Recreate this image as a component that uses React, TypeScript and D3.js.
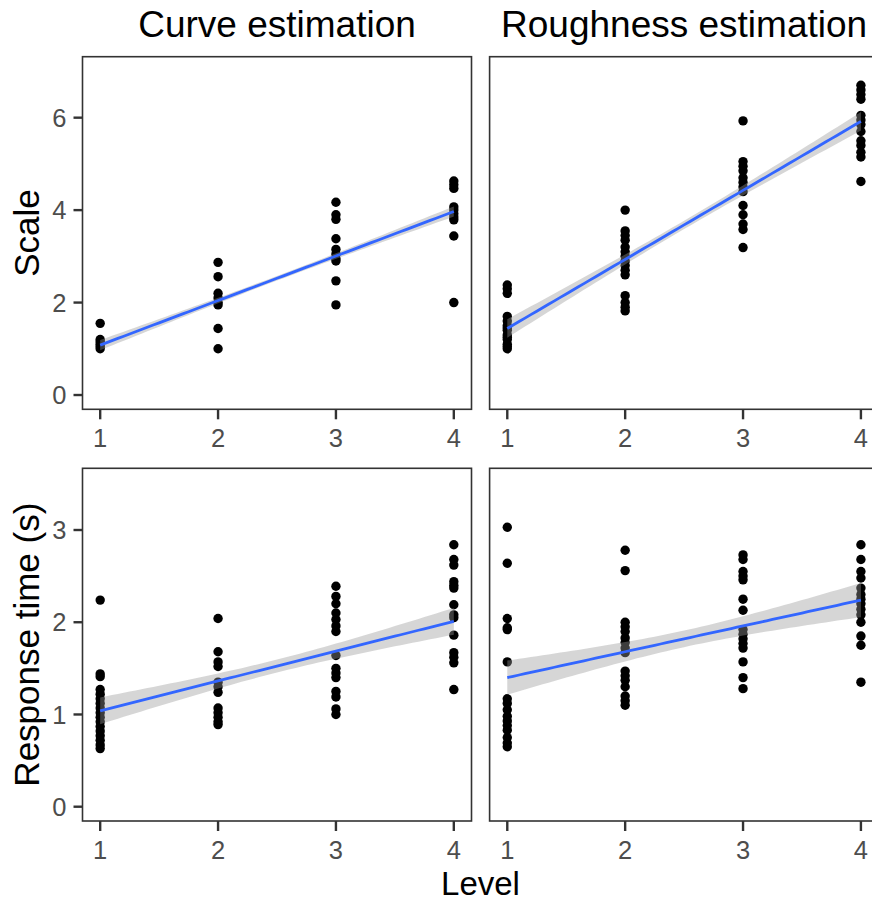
import React from 'react';
import * as d3 from 'd3';

// ---------- data ----------
const levels = [1, 2, 3, 4];
const panelTitles = ['Curve estimation', 'Roughness estimation'];
const rowTitles = ['Scale', 'Response time (s)'];
const xTitle = 'Level';
const scaleTicks = [0, 2, 4, 6];
const timeTicks = [0, 1, 2, 3];
const scaleLimits = [-0.309, 7.319];
const timeLimits = [-0.155, 3.669];

// values per level (1..4)
const curveScale = [
  [1.55, 1.2, 1.15, 1.1, 1.05, 1.0],
  [2.87, 2.56, 2.2, 2.1, 2.0, 1.95, 1.44, 1.0],
  [4.17, 3.9, 3.8, 3.38, 3.15, 3.05, 2.95, 2.9, 2.47, 1.95],
  [4.63, 4.55, 4.47, 4.07, 4.0, 3.92, 3.85, 3.79, 3.44, 2.0],
];
const roughScale = [
  [2.38, 2.3, 2.2, 1.7, 1.6, 1.5, 1.45, 1.4, 1.3, 1.25, 1.2, 1.1, 1.05, 1.0],
  [4.0, 3.55, 3.45, 3.35, 3.2, 3.1, 3.0, 2.9, 2.8, 2.7, 2.6, 2.15, 2.0, 1.9, 1.82],
  [5.93, 5.05, 4.95, 4.85, 4.7, 4.6, 4.5, 4.4, 4.1, 3.9, 3.7, 3.58, 3.19],
  [6.7, 6.6, 6.5, 6.4, 6.05, 5.95, 5.85, 5.7, 5.5, 5.4, 5.25, 5.15, 4.62],
];
const curveTime = [
  [2.24, 1.44, 1.41, 1.27, 1.22, 1.17, 1.12, 1.07, 1.02, 0.97, 0.92, 0.87, 0.82, 0.77, 0.72, 0.67, 0.63],
  [2.04, 1.68, 1.57, 1.52, 1.35, 1.3, 1.24, 1.07, 1.02, 0.97, 0.92, 0.89],
  [2.39, 2.28, 2.2, 2.1, 2.03, 1.96, 1.9, 1.64, 1.5, 1.45, 1.4, 1.25, 1.19, 1.06, 1.0],
  [2.84, 2.68, 2.62, 2.44, 2.4, 2.37, 2.19, 2.08, 2.05, 1.86, 1.67, 1.62, 1.56, 1.27],
];
const roughTime = [
  [3.03, 2.64, 2.04, 1.94, 1.92, 1.57, 1.17, 1.12, 1.05, 0.98, 0.93, 0.88, 0.83, 0.75, 0.69, 0.65],
  [2.78, 2.56, 2.0, 1.95, 1.9, 1.83, 1.78, 1.72, 1.67, 1.47, 1.42, 1.37, 1.3, 1.2, 1.15, 1.1],
  [2.73, 2.68, 2.55, 2.5, 2.46, 2.25, 2.13, 1.92, 1.87, 1.82, 1.77, 1.72, 1.57, 1.4, 1.28],
  [2.84, 2.68, 2.55, 2.48, 2.37, 2.3, 2.25, 2.2, 2.14, 2.08, 2.0, 1.85, 1.75, 1.35],
];

// fitted value at level 1 and level 4; CI half-width at ends and at centre
const curveScaleFit = [1.08, 3.97];
const curveScaleBand = [0.11, 0.05];
const roughScaleFit = [1.44, 5.92];
const roughScaleBand = [0.2, 0.09];
const curveTimeFit = [1.04, 2.01];
const curveTimeBand = [0.145, 0.07];
const roughTimeFit = [1.4, 2.24];
const roughTimeBand = [0.185, 0.09];

// ---------- layout ----------
const W = 872;
const H = 901;
const FONT = "'Liberation Sans', Arial, Helvetica, sans-serif";
const colX = [[82.5, 471.5], [489.6, 878.6]];
const rowY = [[56.7, 409.3], [468.3, 821]];

type PanelDef = {
  row: number;
  col: number;
  values: number[][];
  fit: number[];
  band: number[];
  limits: number[];
  ticks: number[];
};

const panels: PanelDef[] = [
  { row: 0, col: 0, values: curveScale, fit: curveScaleFit, band: curveScaleBand, limits: scaleLimits, ticks: scaleTicks },
  { row: 0, col: 1, values: roughScale, fit: roughScaleFit, band: roughScaleBand, limits: scaleLimits, ticks: scaleTicks },
  { row: 1, col: 0, values: curveTime, fit: curveTimeFit, band: curveTimeBand, limits: timeLimits, ticks: timeTicks },
  { row: 1, col: 1, values: roughTime, fit: roughTimeFit, band: roughTimeBand, limits: timeLimits, ticks: timeTicks },
];

function Panel({ p }: { p: PanelDef }) {
  const [x0, x1] = colX[p.col];
  const [y0, y1] = rowY[p.row];
  const x = d3.scaleLinear().domain([0.85, 4.15]).range([x0, x1]);
  const y = d3.scaleLinear().domain(p.limits).range([y1, y0]);
  const fitAt = (v: number) => p.fit[0] + ((p.fit[1] - p.fit[0]) * (v - 1)) / 3;
  const hwAt = (v: number) => {
    const e = p.band[0];
    const m = p.band[1];
    const t = (v - 2.5) / 1.5;
    return Math.sqrt(m * m + (e * e - m * m) * t * t);
  };
  const xs = d3.range(1, 4.0001, 0.05);
  const area = d3
    .area<number>()
    .x((d) => x(d))
    .y0((d) => y(fitAt(d) - hwAt(d)))
    .y1((d) => y(fitAt(d) + hwAt(d)));
  const line = d3
    .line<number>()
    .x((d) => x(d))
    .y((d) => y(fitAt(d)));
  const clipId = `clip-${p.row}-${p.col}`;
  return (
    <g>
      <defs>
        <clipPath id={clipId}>
          <rect x={x0} y={y0} width={x1 - x0} height={y1 - y0} />
        </clipPath>
      </defs>
      <rect x={x0} y={y0} width={x1 - x0} height={y1 - y0} fill="white" />
      <g clipPath={`url(#${clipId})`}>
        {p.values.map((col, i) =>
          col.map((v, j) => (
            <circle key={`${i}-${j}`} cx={x(levels[i])} cy={y(v)} r={4.7} fill="black" />
          ))
        )}
        <path d={area(xs) || ''} fill="#999999" fillOpacity={0.4} />
        <path d={line(xs) || ''} fill="none" stroke="#3366FF" strokeWidth={2.8} />
      </g>
      <rect x={x0} y={y0} width={x1 - x0} height={y1 - y0} fill="none" stroke="#333333" strokeWidth={1.6} />
      {/* y axis */}
      {p.col === 0 &&
        p.ticks.map((t) => (
          <g key={`yt${t}`}>
            <line x1={x0 - 9} x2={x0} y1={y(t)} y2={y(t)} stroke="#333333" strokeWidth={2.4} />
            <text
              x={x0 - 16}
              y={y(t)}
              dy="0.36em"
              textAnchor="end"
              fontSize={25.5}
              fill="#4D4D4D"
              fontFamily={FONT}
            >
              {t}
            </text>
          </g>
        ))}
      {/* x axis */}
      {levels.map((t) => (
        <g key={`xt${t}`}>
          <line x1={x(t)} x2={x(t)} y1={y1} y2={y1 + 10} stroke="#333333" strokeWidth={2.4} />
          <text x={x(t)} y={y1 + 37.5} textAnchor="middle" fontSize={25.5} fill="#4D4D4D" fontFamily={FONT}>
            {t}
          </text>
        </g>
      ))}
    </g>
  );
}

export default function App() {
  return (
    <svg
      width={W}
      height={H}
      style={{ position: 'absolute', left: 0, top: 0, display: 'block', background: 'white' }}
    >
      <rect x={0} y={0} width={W} height={H} fill="white" />
      {panels.map((p) => (
        <Panel key={`${p.row}-${p.col}`} p={p} />
      ))}
      {panelTitles.map((t, i) => (
        <text
          key={t}
          x={(colX[i][0] + colX[i][1]) / 2}
          y={36.7}
          textAnchor="middle"
          fontSize={37}
          fill="black"
          fontFamily={FONT}
        >
          {t}
        </text>
      ))}
      {rowTitles.map((t, i) => {
        const cy = (rowY[i][0] + rowY[i][1]) / 2;
        return (
          <text
            key={t}
            transform={`translate(39,${cy}) rotate(-90)`}
            textAnchor="middle"
            fontSize={35}
            fill="black"
            fontFamily={FONT}
          >
            {t}
          </text>
        );
      })}
      <text x={480.5} y={895} textAnchor="middle" fontSize={33} fill="black" fontFamily={FONT}>
        {xTitle}
      </text>
    </svg>
  );
}
